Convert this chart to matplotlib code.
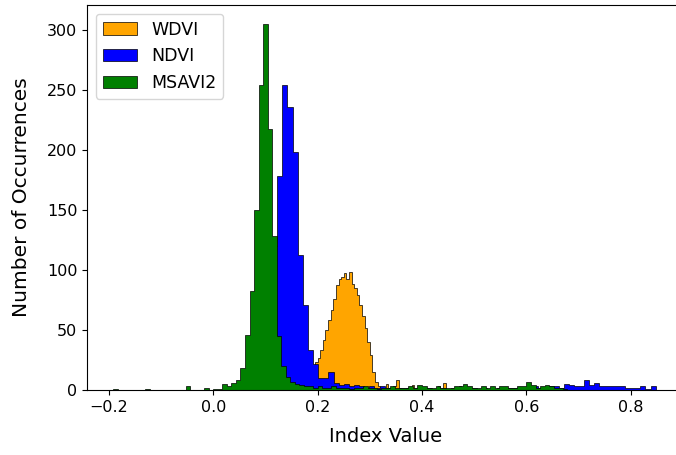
import numpy as np
import matplotlib
matplotlib.use("Agg")
import matplotlib.pyplot as plt

# ---------------- data (histogram counts) ----------------
series_names = ["WDVI", "NDVI", "MSAVI2"]
series_colors = ["orange", "blue", "green"]

# WDVI: bins start at 0.170, width 0.005
wdvi_start, wdvi_width = 0.170, 0.005
wdvi_counts = [3, 5, 8, 12, 17, 23, 27, 33, 42, 50,
               58, 67, 76, 87, 92, 94, 97, 92, 98, 88,
               85, 79, 71, 62, 52, 40, 29, 15, 7, 3,
               2, 1, 5, 2, 1, 3, 8, 2, 1, 0,
               2, 1, 4, 1, 0, 2, 1, 0, 1, 2,
               0, 1, 3, 0, 6, 1, 0, 2, 0, 1,
               3, 0, 1, 0, 0, 1, 0, 1, 0, 0,
               1, 0, 0, 0, 1, 0]

# NDVI: bins start at 0.005, width 0.0098
ndvi_start, ndvi_width = 0.005, 0.0098
ndvi_counts = [0, 0, 1, 0, 1, 2, 3, 6, 12, 30,
               70, 120, 178, 254, 236, 198, 112, 71, 33, 22,
               10, 10, 15, 6, 4, 5, 3, 4, 3, 2,
               3, 2, 3, 2, 2, 1, 2, 2, 1, 2,
               1, 2, 1, 1, 2, 1, 1, 2, 1, 1,
               2, 1, 2, 1, 1, 2, 1, 2, 2, 1,
               2, 2, 3, 2, 2, 3, 3, 2, 5, 4,
               3, 3, 8, 4, 6, 3, 3, 3, 3, 3,
               2, 2, 2, 3, 1, 3]

# MSAVI2: bins start at -0.1916, width 0.0087
msavi_start, msavi_width = -0.1916, 0.0087
msavi_counts = [1, 0, 0, 0, 0, 0, 0, 1, 0, 0,
                0, 0, 0, 0, 0, 0, 3, 0, 0, 0,
                2, 0, 1, 1, 5, 3, 6, 8, 18, 46,
                82, 150, 254, 305, 217, 128, 45, 20, 11, 7,
                5, 4, 3, 3, 2, 3, 2, 2, 3, 2,
                2, 2, 1, 2, 2, 3, 2, 2, 1, 2,
                2, 3, 2, 2, 2, 3, 2, 4, 3, 2,
                2, 3, 2, 2, 2, 3, 3, 5, 3, 2,
                2, 3, 2, 3, 2, 3, 3, 2, 2, 3,
                3, 7, 4, 2, 3, 4, 3, 2, 2, 1]

x_ticks = [-0.2, 0.0, 0.2, 0.4, 0.6, 0.8]
y_ticks = [0, 50, 100, 150, 200, 250, 300]
x_label = "Index Value"
y_label = "Number of Occurrences"

# ---------------- plotting ----------------
fig = plt.figure(figsize=(6.76, 4.55), dpi=100)
ax = fig.add_axes([87 / 676, 65 / 455, (684 - 87) / 676, (390 - 5) / 455])

specs = [(wdvi_start, wdvi_width, wdvi_counts),
         (ndvi_start, ndvi_width, ndvi_counts),
         (msavi_start, msavi_width, msavi_counts)]

for (start, width, counts), name, color in zip(specs, series_names, series_colors):
    counts = np.asarray(counts, dtype=float)
    edges = start + width * np.arange(len(counts) + 1)
    centers = 0.5 * (edges[:-1] + edges[1:])
    ax.hist(centers, bins=edges, weights=counts, histtype="stepfilled",
            color=color, edgecolor="black", linewidth=0.5, label=name)

ax.set_xlim(-0.242, 0.902)
ax.set_ylim(0, 320.5)
ax.set_xticks(x_ticks)
ax.set_yticks(y_ticks)
ax.tick_params(labelsize=11.5)
ax.set_xlabel(x_label, fontsize=14, labelpad=9)
ax.set_ylabel(y_label, fontsize=14.5, labelpad=11)
ax.legend(loc="upper left", fontsize=12.5)

fig.savefig("out.png", dpi=100)
